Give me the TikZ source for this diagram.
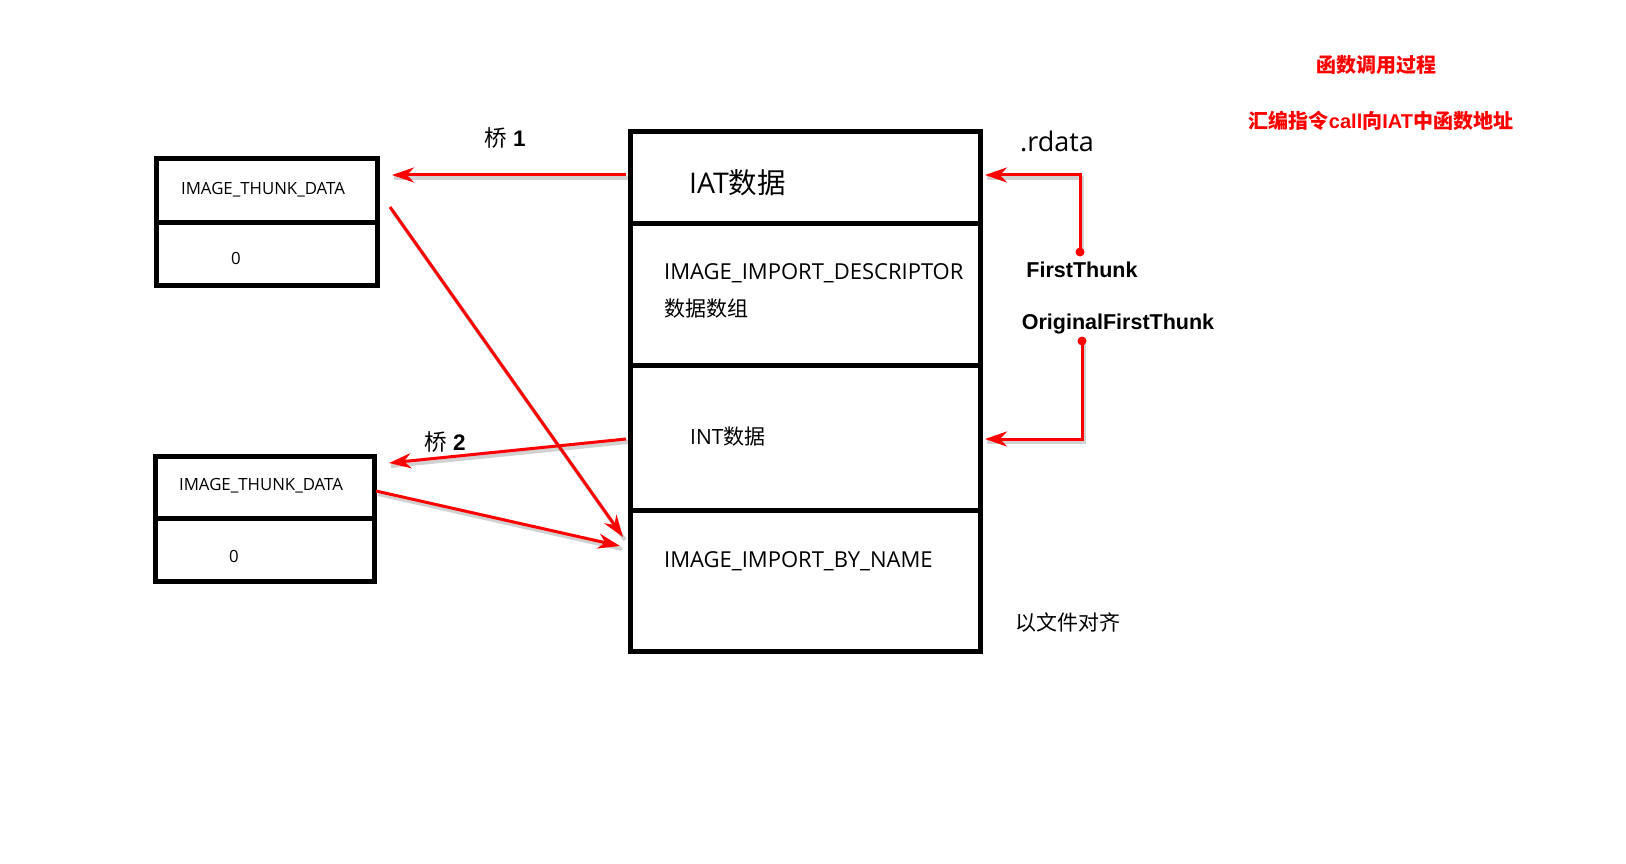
\documentclass[tikz,border=0pt]{standalone}
\usepackage{fontspec}
\setmainfont{Open Sans}
\newfontfamily\cjk{Noto Sans CJK SC}
\newfontfamily\lab{Liberation Sans}
\usetikzlibrary{arrows.meta}
\begin{document}
\begin{tikzpicture}[x=1pt,y=-1pt,
  box/.style={draw=black,line width=5pt,inner sep=0pt,outer sep=0pt,anchor=north west},
  txt/.style={inner sep=0pt,anchor=west},
  thk/.style={inner sep=0pt,font=\fontsize{16.8pt}{16.8pt}\selectfont},
  big/.style={font=\fontsize{22pt}{22pt}\selectfont},
  mid/.style={font=\fontsize{21pt}{21pt}\selectfont},
  boldlab/.style={inner sep=0pt,font=\fontsize{21.5pt}{21.5pt}\selectfont\lab\bfseries},
  redtxt/.style={inner sep=0pt,text=red,font=\fontsize{20pt}{20pt}\selectfont},
  redline/.style={draw=red,line width=3pt,line join=miter},
  redarrow/.style={redline,-{Stealth[length=22pt,width=15pt,inset=7pt]}},
  shadowline/.style={draw=black,opacity=.18,line width=4pt},
]
\useasboundingbox (0,0) rectangle (1626,864);

% main structure
\node[box,minimum width=350pt,minimum height=91.5pt] (iat) at (630.5,131.5) {};
\node[box,minimum width=350pt,minimum height=142pt] (desc) at (630.5,223) {};
\node[box,minimum width=350pt,minimum height=145pt] (int) at (630.5,365) {};
\node[box,minimum width=350pt,minimum height=141.5pt] (byname) at (630.5,510) {};

% thunk boxes
\node[box,minimum width=221pt,minimum height=63.5pt] (t1a) at (156.5,158.5) {};
\node[box,minimum width=221pt,minimum height=63.5pt] (t1b) at (156.5,222) {};
\node[box,minimum width=219pt,minimum height=61.5pt] (t2a) at (155,456.5) {};
\node[box,minimum width=219pt,minimum height=63.5pt] (t2b) at (155,518) {};

% texts in main box
\node[txt,font=\fontsize{28.5pt}{28.5pt}\selectfont] (tiat) at (689,183) {IAT{\cjk 数据}};
\node[txt,big] (tdesc) at (664,273) {IMAGE\_IMPORT\_DESCRIPTOR};
\node[txt,mid] (tdesc2) at (664,309) {\cjk 数据数组};
\node[txt,mid] (tint) at (690,437) {INT{\cjk 数据}};
\node[txt,big] (tbyname) at (664,561) {IMAGE\_IMPORT\_BY\_NAME};
\node[txt,mid] (talign) at (1015,623) {\cjk 以文件对齐};
\node[txt,font=\fontsize{27pt}{27pt}\selectfont] (trdata) at (1020,141) {.rdata};

% texts in thunk boxes
\node[thk] (tt1) at (263,190) {IMAGE\_THUNK\_DATA};
\node[thk] (tz1) at (236,258) {0};
\node[thk] (tt2) at (261,486) {IMAGE\_THUNK\_DATA};
\node[thk] (tz2) at (234,556) {0};

% bridge labels
\node[boldlab,font=\fontsize{22.5pt}{22.5pt}\selectfont\lab\bfseries] (q1) at (505,138) {{\cjk\mdseries 桥} 1};
\node[boldlab,font=\fontsize{22.5pt}{22.5pt}\selectfont\lab\bfseries] (q2) at (445,442) {{\cjk\mdseries 桥} 2};

% thunk labels
\node[boldlab] (ft) at (1082,270) {FirstThunk};
\node[boldlab] (oft) at (1118,323.5) {OriginalFirstThunk};

% red notes
\node[redtxt] (n1) at (1376,65) {\cjk\bfseries 函数调用过程};
\node[redtxt] (n2) at (1381,121) {{\cjk\bfseries 汇编指令}{\lab\bfseries call}{\cjk\bfseries 向}{\lab\bfseries IAT}{\cjk\bfseries 中函数地址}};

% arrow end points
\coordinate (a1s) at (626,175);   \coordinate (a1e) at (392,175);
\coordinate (a2s) at (390,207);   \coordinate (a2e) at (623,537);
\coordinate (a3s) at (626,439);   \coordinate (a3e) at (389,463);
\coordinate (a4s) at (376,491);   \coordinate (a4e) at (620,546);
\coordinate (ftdot) at (1080,252); \coordinate (ftc) at (1080,175); \coordinate (fte) at (985,175);
\coordinate (oftdot) at (1082,341); \coordinate (oftc) at (1082,439); \coordinate (ofte) at (985,439);

% shadows
\begin{scope}[transform canvas={shift={(2pt,-3pt)}}]
\draw[shadowline] (a1s) -- (a1e);
\draw[shadowline] (a2s) -- (a2e);
\draw[shadowline] (a3s) -- (a3e);
\draw[shadowline] (a4s) -- (a4e);
\draw[shadowline] (ftdot) -- (ftc) -- (fte);
\draw[shadowline] (oftdot) -- (oftc) -- (ofte);
\end{scope}

% arrows
\draw[redarrow] (a1s) -- (a1e);
\draw[redarrow] (a2s) -- (a2e);
\draw[redarrow] (a3s) -- (a3e);
\draw[redarrow] (a4s) -- (a4e);
\draw[redarrow] (ftdot) -- (ftc) -- (fte);
\draw[redarrow] (oftdot) -- (oftc) -- (ofte);
\fill[red] (ftdot) circle (4.5pt);
\fill[red] (oftdot) circle (4.5pt);
\end{tikzpicture}
\end{document}
